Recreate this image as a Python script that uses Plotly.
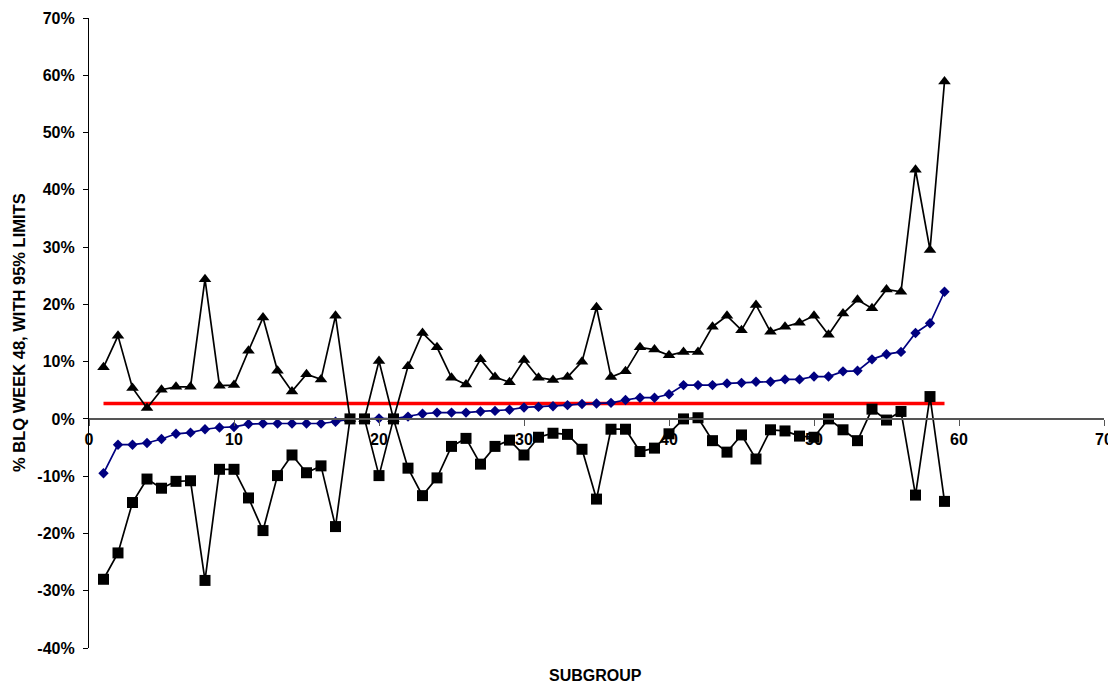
import plotly.graph_objects as go

subgroup = list(range(1, 60))

upper_limit = [
    9.0, 14.5, 5.4, 1.9, 5.1, 5.6, 5.6, 24.4, 5.8, 5.9,
    11.9, 17.7, 8.4, 4.8, 7.8, 6.9, 18.0, 0.0, 0.0, 10.1,
    0.0, 9.2, 15.0, 12.5, 7.2, 6.0, 10.4, 7.3, 6.4, 10.3,
    7.2, 6.8, 7.3, 10.0, 19.5, 7.3, 8.3, 12.5, 12.1, 11.1,
    11.7, 11.7, 16.1, 18.0, 15.5, 19.9, 15.2, 16.1, 16.8, 18.0,
    14.7, 18.4, 20.8, 19.3, 22.6, 22.2, 43.5, 29.5, 58.9,
]

pct_blq = [
    -9.5, -4.5, -4.5, -4.2, -3.5, -2.6, -2.4, -1.8, -1.5, -1.4,
    -0.9, -0.8, -0.8, -0.8, -0.8, -0.8, -0.5, 0.0, 0.0, 0.1,
    0.0, 0.4, 0.9, 1.1, 1.1, 1.1, 1.3, 1.4, 1.6, 2.0,
    2.1, 2.2, 2.4, 2.6, 2.7, 2.8, 3.3, 3.7, 3.7, 4.3,
    5.9, 5.9, 5.9, 6.2, 6.3, 6.5, 6.5, 6.9, 6.9, 7.4,
    7.4, 8.3, 8.4, 10.4, 11.3, 11.7, 15.0, 16.7, 22.2,
]

lower_limit = [
    -28.0, -23.4, -14.6, -10.5, -12.1, -10.9, -10.8, -28.2, -8.8, -8.8,
    -13.8, -19.5, -9.9, -6.3, -9.4, -8.2, -18.8, 0.0, 0.0, -9.9,
    0.0, -8.6, -13.4, -10.3, -4.8, -3.4, -7.9, -4.8, -3.7, -6.3,
    -3.2, -2.5, -2.7, -5.3, -14.0, -1.8, -1.8, -5.7, -5.1, -2.6,
    0.0, 0.2, -3.8, -5.8, -2.8, -7.0, -1.9, -2.1, -3.0, -3.2,
    0.0, -1.9, -3.8, 1.7, -0.2, 1.3, -13.3, 3.9, -14.4,
]

overall_blq = 2.7

y_ticks = [70, 60, 50, 40, 30, 20, 10, 0, -10, -20, -30, -40]
y_labels = ["70%", "60%", "50%", "40%", "30%", "20%", "10%", "0%",
            "-10%", "-20%", "-30%", "-40%"]

y_min, y_max = -40, 70

# the page body has an 8px margin, so the figure is shifted by that much
OFF = 8
W, H = 1116, 684
PLOT_L, PLOT_R, PLOT_T, PLOT_B = 89, 1104, 18, 648  # in page pixels


def paper_x(px):
    return (px - PLOT_L) / (PLOT_R - PLOT_L)


def paper_y(py):
    return 1 - (py - PLOT_T) / (PLOT_B - PLOT_T)


fig = go.Figure()

# overall rate reference line
fig.add_trace(go.Scatter(
    x=[subgroup[0], subgroup[-1]], y=[overall_blq, overall_blq],
    mode="lines", line=dict(color="#ff0000", width=3.5),
    hoverinfo="skip",
))

fig.add_trace(go.Scatter(
    x=subgroup, y=upper_limit, mode="lines+markers",
    line=dict(color="black", width=1.7),
    marker=dict(symbol="triangle-up", size=11, color="black"),
))

fig.add_trace(go.Scatter(
    x=subgroup, y=pct_blq, mode="lines+markers",
    line=dict(color="#000080", width=1.7),
    marker=dict(symbol="diamond", size=8, color="#000080"),
))

fig.add_trace(go.Scatter(
    x=subgroup, y=lower_limit, mode="lines+markers",
    line=dict(color="black", width=1.7),
    marker=dict(symbol="square", size=11, color="black"),
))

tick_font = dict(family="Liberation Sans, Arial, sans-serif", size=16,
                 color="black", weight="bold")
title_font = dict(family="Liberation Sans, Arial, sans-serif", size=16.5,
                  color="black", weight="bold")

fig.update_layout(
    width=W, height=H,
    margin=dict(l=PLOT_L - OFF, r=W - (PLOT_R - OFF),
                t=PLOT_T - OFF, b=H - (PLOT_B - OFF), autoexpand=False),
    paper_bgcolor="white", plot_bgcolor="white",
    showlegend=False,
    xaxis=dict(
        range=[0, 70], dtick=10, tick0=0,
        anchor="free", position=(0 - y_min) / (y_max - y_min),
        showline=True, linecolor="#555555", linewidth=1.5,
        ticks="outside", ticklen=6, tickcolor="#555555",
        showgrid=False, zeroline=False,
        tickfont=tick_font,
    ),
    yaxis=dict(
        range=[y_min, y_max], tickvals=y_ticks, ticktext=y_labels,
        showline=True, linecolor="black", linewidth=1.2,
        ticks="outside", ticklen=5, tickcolor="black",
        ticklabelstandoff=5,
        showgrid=False, zeroline=False,
        tickfont=tick_font,
    ),
    annotations=[
        dict(text="SUBGROUP", x=paper_x(595), y=paper_y(675),
             xref="paper", yref="paper", xanchor="center", yanchor="middle",
             showarrow=False, font=tick_font),
        dict(text="% BLQ WEEK 48, WITH 95% LIMITS", x=paper_x(19),
             y=paper_y(333), xref="paper", yref="paper",
             xanchor="center", yanchor="middle", showarrow=False,
             textangle=-90, font=title_font),
    ],
)

fig.write_html("out.html")
